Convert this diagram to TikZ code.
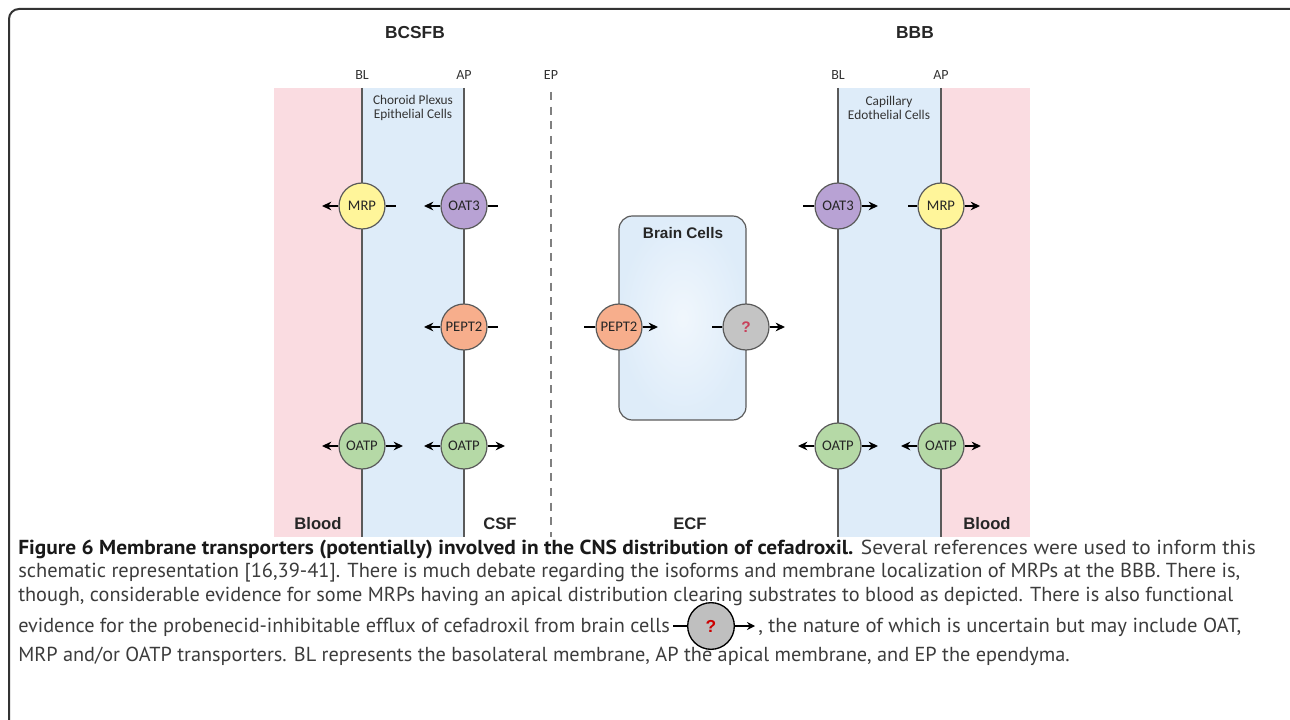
\documentclass[tikz,border=0pt]{standalone}
\usepackage{fontspec}
\setmainfont{PT Sans}
\newfontfamily\lblf{Carlito}
\newfontfamily\arb{Liberation Sans}
\newfontfamily\capf{PT Sans}
\usetikzlibrary{arrows.meta}
\definecolor{pinkbg}{HTML}{FADCE1}
\definecolor{bluebg}{HTML}{DEECF9}
\definecolor{memb}{HTML}{5A5A5A}
\definecolor{mrpc}{HTML}{FFF59A}
\definecolor{oatc}{HTML}{B8A2D4}
\definecolor{pepc}{HTML}{F7AE8C}
\definecolor{oatpc}{HTML}{B5D9A6}
\definecolor{qc}{HTML}{C4C4C4}
\definecolor{qred}{HTML}{C8405A}
\definecolor{capred}{HTML}{CC0000}
\definecolor{captxt}{HTML}{3C3C3C}
\definecolor{frame}{HTML}{333333}
\tikzset{
  tr/.style={circle, draw=memb, line width=0.9pt, minimum size=34.5pt, inner sep=0pt,
    font=\lblf\fontsize{11}{12}\selectfont, text=black!85},
  arr/.style={line width=1.1pt, -{Stealth[length=7pt,width=6.5pt]}},
  stub/.style={line width=1.1pt},
  memline/.style={draw=memb, line width=1pt},
  small/.style={font=\lblf\fontsize{10.5}{11}\selectfont, text=black!80},
  big/.style={font=\arb\bfseries\fontsize{12.5}{14}\selectfont, text=black!85},
  capline/.style={anchor=base west, inner sep=0pt, font=\capf\fontsize{15.2}{17}\selectfont, text=captxt}
}
\begin{document}
\begin{tikzpicture}[x=0.75pt,y=-0.75pt]
\useasboundingbox (0,0) rectangle (1290,720);
% frame
\draw[frame, line width=1.5pt, rounded corners=7.5pt] (9,760) -- (9,9) -- (1302,9) -- (1302,760);
% regions
\fill[pinkbg] (274,88) rectangle (362,537);
\fill[bluebg] (362,88) rectangle (464,537);
\fill[bluebg] (838,88) rectangle (941,537);
\fill[pinkbg] (941,88) rectangle (1030,537);
\draw[memline] (362,88) -- (362,537);
\draw[memline] (464,88) -- (464,537);
\draw[memline] (838,88) -- (838,537);
\draw[memline] (941,88) -- (941,537);
\draw[draw=black!50, line width=1.2pt, dash pattern=on 6pt off 5pt] (551,92) -- (551,537);
% headings
\node[font=\arb\bfseries\fontsize{13}{15}\selectfont, text=black!85] (h1) at (415,33) {BCSFB};
\node[font=\arb\bfseries\fontsize{13}{15}\selectfont, text=black!85] (h2) at (915,33) {BBB};
\node[small] (bl1) at (362,75) {BL};
\node[small] (ap1) at (464,75) {AP};
\node[small] (ep1) at (551,75) {EP};
\node[small] (bl2) at (838,75) {BL};
\node[small] (ap2) at (941,75) {AP};
\node[small, align=center, font=\lblf\fontsize{10}{10.8}\selectfont] (cp) at (413,108) {Choroid Plexus\\Epithelial Cells};
\node[small, align=center, font=\lblf\fontsize{10}{10.8}\selectfont] (ce) at (889,108) {Capillary\\Edothelial Cells};
\node[big] (blood1) at (318,524) {Blood};
\node[big] (csf) at (500,524) {CSF};
\node[big] (ecf) at (690,524) {ECF};
\node[big] (blood2) at (987,524) {Blood};
% brain cells
\draw[draw=memb, line width=0.9pt, rounded corners=10pt, inner color=white!55!bluebg, outer color=bluebg] (619,216) rectangle (746,420);
\node[font=\arb\bfseries\fontsize{11.5}{13}\selectfont, text=black!85] (bc) at (683,233) {Brain Cells};
% arrow end coordinates
\coordinate (a1) at (322,206); \coordinate (b1) at (396,206);
\coordinate (a2) at (424,206); \coordinate (b2) at (498,206);
\coordinate (a3) at (424,327); \coordinate (b3) at (498,327);
\coordinate (a4) at (322,446); \coordinate (b4) at (403,446);
\coordinate (a5) at (424,446); \coordinate (b5) at (505,446);
\coordinate (a6) at (584,327); \coordinate (b6) at (658,327);
\coordinate (a7) at (712,327); \coordinate (b7) at (785,327);
\coordinate (a8) at (803,206); \coordinate (b8) at (878,206);
\coordinate (a9) at (908,206); \coordinate (b9) at (980,206);
\coordinate (a10) at (798,446); \coordinate (b10) at (878,446);
\coordinate (a11) at (901,446); \coordinate (b11) at (981,446);
% transporters
\node[tr, fill=mrpc] (mrp1) at (362,206) {MRP};
\node[tr, fill=oatc] (oat1) at (464,206) {OAT3};
\node[tr, fill=pepc] (pep1) at (464,327) {PEPT2};
\node[tr, fill=oatpc] (oatp1) at (362,446) {OATP};
\node[tr, fill=oatpc] (oatp2) at (464,446) {OATP};
\node[tr, fill=pepc] (pep2) at (619,327) {PEPT2};
\node[tr, fill=qc, font=\arb\bfseries\fontsize{11.5}{12}\selectfont, text=qred] (q1) at (746,327) {?};
\node[tr, fill=oatc] (oat2) at (838,206) {OAT3};
\node[tr, fill=mrpc] (mrp2) at (941,206) {MRP};
\node[tr, fill=oatpc] (oatp3) at (838,446) {OATP};
\node[tr, fill=oatpc] (oatp4) at (941,446) {OATP};
% connectors
\draw[arr] (mrp1.west) -- (a1); \draw[stub] (mrp1.east) -- (b1);
\draw[arr] (oat1.west) -- (a2); \draw[stub] (oat1.east) -- (b2);
\draw[arr] (pep1.west) -- (a3); \draw[stub] (pep1.east) -- (b3);
\draw[arr] (oatp1.west) -- (a4); \draw[arr] (oatp1.east) -- (b4);
\draw[arr] (oatp2.west) -- (a5); \draw[arr] (oatp2.east) -- (b5);
\draw[stub] (a6) -- (pep2.west); \draw[arr] (pep2.east) -- (b6);
\draw[stub] (a7) -- (q1.west); \draw[arr] (q1.east) -- (b7);
\draw[stub] (a8) -- (oat2.west); \draw[arr] (oat2.east) -- (b8);
\draw[stub] (a9) -- (mrp2.west); \draw[arr] (mrp2.east) -- (b9);
\draw[arr] (oatp3.west) -- (a10); \draw[arr] (oatp3.east) -- (b10);
\draw[arr] (oatp4.west) -- (a11); \draw[arr] (oatp4.east) -- (b11);
% caption
\node[capline] (c1) at (18,554) {\scalebox{1.055}[1]{\textbf{\color{black!90}Figure 6 Membrane transporters (potentially) involved in the CNS distribution of cefadroxil.} Several references were used to inform this}};
\node[capline] (c2) at (18,577) {\scalebox{1.009}[1]{schematic representation [16,39-41]. There is much debate regarding the isoforms and membrane localization of MRPs at the BBB. There is,}};
\node[capline] (c3) at (18,601) {though, considerable evidence for some MRPs having an apical distribution clearing substrates to blood as depicted. There is also functional};
\node[capline] (c4) at (18,632) {evidence for the probenecid-inhibitable efflux of cefadroxil from brain cells};
\node[capline] (c5) at (758,632) {\scalebox{1.02}[1]{, the nature of which is uncertain but may include OAT,}};
\node[capline] (c6) at (18,661) {MRP and/or OATP transporters. BL represents the basolateral membrane, AP the apical membrane, and EP the ependyma.};
\coordinate (ia) at (673,626); \coordinate (ib) at (755,626);
\node[circle, draw=black, line width=1pt, fill=black!25, minimum size=35pt, inner sep=0pt, font=\arb\bfseries\fontsize{13}{14}\selectfont, text=capred] (icon) at (711,626) {?};
\draw[line width=1.4pt] (ia) -- (icon.west);
\draw[line width=1.4pt, -{Stealth[length=6pt,width=6pt]}] (icon.east) -- (ib);
\end{tikzpicture}
\end{document}
